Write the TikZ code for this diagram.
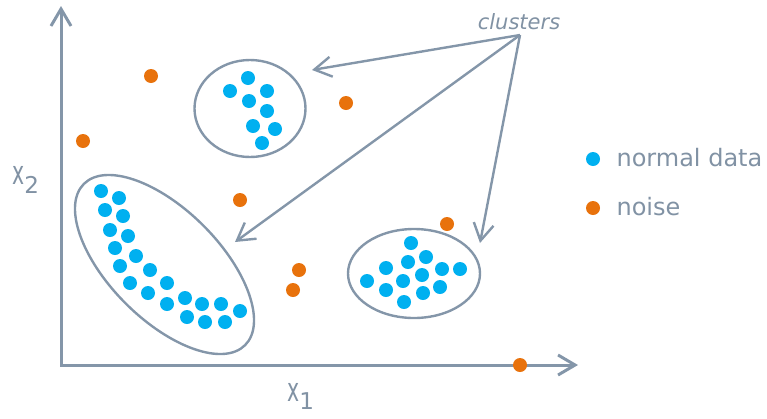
\documentclass[tikz,border=0pt]{standalone}
\usepackage{fontspec}
\usepackage{graphicx}
\setmainfont{DejaVu Sans}
\usetikzlibrary{arrows.meta,shapes.geometric}
\definecolor{axisgray}{HTML}{8496A9}
\definecolor{textgray}{HTML}{8192A4}
\definecolor{datablue}{HTML}{00B0F0}
\definecolor{noiseorange}{HTML}{E8720C}
\newcommand{\narrowx}{\scalebox{0.62}[1]{x}}

\begin{document}
\begin{tikzpicture}[x=1pt,y=-1pt,
  dot/.style={circle,inner sep=0pt,minimum size=14pt},
  normal/.style={dot,fill=datablue},
  noise/.style={dot,fill=noiseorange},
  cluster/.style={ellipse,draw=axisgray,line width=2.4pt,inner sep=0pt},
  pointer/.style={draw=axisgray,line width=2.4pt,line join=round,-{Straight Barb[length=17pt,width=20pt]}},
  axis/.style={draw=axisgray,line width=3pt,{Straight Barb[length=17pt,width=20pt]}-{Straight Barb[length=17pt,width=20pt]}},
  legend/.style={anchor=base west,text=textgray,font=\fontsize{24}{28}\selectfont},
  axlabel/.style={text=textgray,inner sep=0pt,font=\fontsize{33}{36}\selectfont}]
\useasboundingbox (0,0) rectangle (767,418);

% axes
\coordinate (o) at (61,365);
\coordinate (xend) at (578,365);
\coordinate (yend) at (61,6);
\draw[axis] (yend) -- (o) -- (xend);
\node[axlabel,anchor=base] (x1lbl) at (301,401) {\narrowx\textsubscript{1}};
\node[axlabel] (x2lbl) at (26,180) {\narrowx\textsubscript{2}};

% clusters
\node[cluster,minimum width=111pt,minimum height=97pt] (ctop) at (250,108.5) {};
\node[cluster,minimum width=228pt,minimum height=110pt,rotate=-45] (cbig) at (164.5,264.5) {};
\node[cluster,minimum width=132pt,minimum height=89pt] (cright) at (414,273.5) {};

% normal data
\foreach \x/\y [count=\i] in {248/78,230/91,267/91,249/101,267/111,253/126,275/129,262/143}
  \node[normal] (t\i) at (\x,\y) {};
\foreach \x/\y [count=\i] in {101/191,119/198,105/210,123/216,110/230,128/236,115/248,136/256,
    120/266,150/270,130/283,167/283,148/293,167/304,185/298,202/304,221/304,240/311,187/317,205/322,225/322}
  \node[normal] (b\i) at (\x,\y) {};
\foreach \x/\y [count=\i] in {411/243,426/257,408/262,386/268,442/269,460/269,422/275,
    403/281,367/281,440/287,386/290,423/293,404/302}
  \node[normal] (r\i) at (\x,\y) {};

% noise
\foreach \x/\y [count=\i] in {151/76,83/141,346/103,240/200,447/224,299/270,293/290,520/365}
  \node[noise] (n\i) at (\x,\y) {};

% pointers
\node[text=textgray,font=\fontsize{21}{25}\selectfont\itshape,anchor=base] (clbl) at (519,29) {clusters};
\coordinate (hub) at (520,35);
\coordinate (tipa) at (312,70);
\coordinate (tipb) at (235,242);
\coordinate (tipc) at (480,243);
\draw[pointer] (hub) -- (tipa);
\draw[pointer] (hub) -- (tipb);
\draw[pointer] (hub) -- (tipc);

% legend
\node[normal] (kblue) at (593,159) {};
\node[noise] (korange) at (593,208) {};
\node[legend] (kbluetxt) at (613,166) {normal data};
\node[legend] (korangetxt) at (613,215) {noise};
\end{tikzpicture}
\end{document}
